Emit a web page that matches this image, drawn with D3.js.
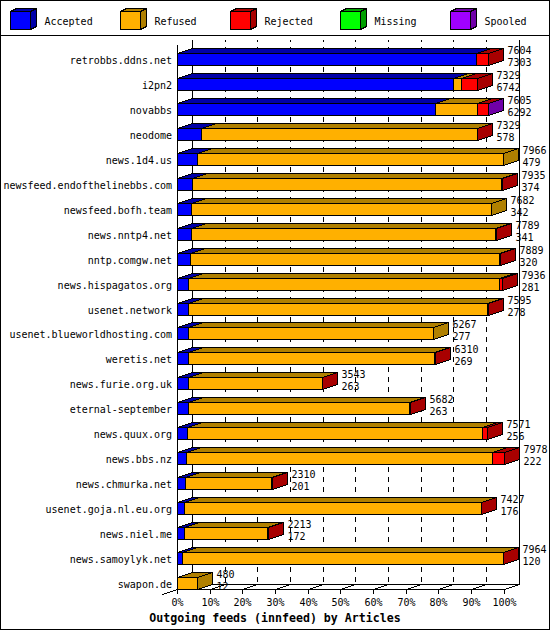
<!DOCTYPE html>
<html><head><meta charset="utf-8">
<script src="https://cdn.jsdelivr.net/npm/d3@7/dist/d3.min.js"></script>
<style>
html,body{margin:0;padding:0;background:#fff;}
svg text{font-family:"DejaVu Sans Mono","Liberation Mono",monospace;}
</style></head>
<body>
<svg id="chart" width="550" height="630"></svg>
<script>
const sites = ["retrobbs.ddns.net","i2pn2","novabbs","neodome","news.1d4.us","newsfeed.endofthelinebbs.com","newsfeed.bofh.team","news.nntp4.net","nntp.comgw.net","news.hispagatos.org","usenet.network","usenet.blueworldhosting.com","weretis.net","news.furie.org.uk","eternal-september","news.quux.org","news.bbs.nz","news.chmurka.net","usenet.goja.nl.eu.org","news.niel.me","news.samoylyk.net","swapon.de"];
const totals   = [7604,7329,7605,7329,7966,7935,7682,7789,7889,7936,7595,6267,6310,3543,5682,7571,7978,2310,7427,2213,7964,480];
const accepted = [7303,6742,6292,578,479,374,342,341,320,281,278,277,269,263,263,256,222,201,176,172,120,12];
const refused  = [0,205,1030,6746,7487,7546,7340,7440,7559,7595,7309,5990,6001,3275,5414,7185,7486,2104,7246,2036,7839,468];
const rejected = [301,382,280,5,0,15,0,8,10,60,8,0,40,5,5,130,270,5,5,5,5,0];
const missing  = [0,0,0,0,0,0,0,0,0,0,0,0,0,0,0,0,0,0,0,0,0,0];
const spooled  = [0,0,3,0,0,0,0,0,0,0,0,0,0,0,0,0,0,0,0,0,0,0];
const seriesNames = ["Accepted","Refused","Rejected","Missing","Spooled"];
const seriesData = [accepted, refused, rejected, missing, spooled];
const tickLabels = ["0%","10%","20%","30%","40%","50%","60%","70%","80%","90%","100%"];
const tickFractions = [0,0.1,0.2,0.3,0.4,0.5,0.6,0.7,0.8,0.9,1.0];
const title = "Outgoing feeds (innfeed) by Articles";

const frontColors = ["#0000ff","#ffb000","#ff0000","#00ff00","#a000ff"];
const sideColors  = ["#0000a8","#b08000","#a80000","#00a000","#7000a8"];

const svg = d3.select("#chart");
const DX = 15, DY = 5, BH = 12;
const maxV = d3.max(totals);
const x = d3.scaleLinear().domain([0, maxV]).range([177, 503.5]);
const y = d3.scaleBand().domain(sites).range([46.5, 595.5]).paddingInner(0).paddingOuter(0);
const px = v => Math.round(x(v)) + 0.5;

// frame
svg.append("rect").attr("x",0.5).attr("y",0.5).attr("width",549).attr("height",629)
  .attr("fill","#fff").attr("stroke","#000");
svg.append("line").attr("x1",0).attr("x2",550).attr("y1",35.5).attr("y2",35.5).attr("stroke","#000");

// legend
const leg = svg.append("g").attr("shape-rendering","crispEdges");
seriesNames.forEach((n,i)=>{
  const lx = 10.5 + i*110, ly = 11.5, w = 20, h = 18, d = 6, dd = 3;
  leg.append("polygon").attr("points",[[lx,ly],[lx+d,ly-dd],[lx+w+d,ly-dd],[lx+w,ly]].join(" "))
    .attr("fill",sideColors[i]).attr("stroke","#000");
  leg.append("polygon").attr("points",[[lx+w,ly],[lx+w+d,ly-dd],[lx+w+d,ly+h-dd],[lx+w,ly+h]].join(" "))
    .attr("fill",sideColors[i]).attr("stroke","#000");
  leg.append("rect").attr("x",lx).attr("y",ly).attr("width",w).attr("height",h)
    .attr("fill",frontColors[i]).attr("stroke","#000");
  svg.append("text").attr("x",lx+34).attr("y",25).attr("font-size","10px").text(n);
});

// axes / walls
const g = svg.append("g").attr("shape-rendering","crispEdges");
const floorFront = 589.5, floorBack = floorFront - DY, wallTop = 40;
const x0 = px(0), x100 = px(maxV);
// dashed grid on back wall
tickFractions.forEach((f,i)=>{
  if (i===0 || i===tickFractions.length-1) return;
  const tx = px(f*maxV);
  g.append("line").attr("x1",tx+DX).attr("x2",tx+DX).attr("y1",floorBack-2.5).attr("y2",wallTop)
    .attr("stroke","#000").attr("stroke-dasharray","5,5");
});
g.append("line").attr("x1",x0+DX).attr("x2",x0+DX).attr("y1",wallTop).attr("y2",floorBack).attr("stroke","#000");
g.append("line").attr("x1",x100+DX).attr("x2",x100+DX).attr("y1",wallTop).attr("y2",floorBack).attr("stroke","#000");
g.append("line").attr("x1",x0+DX).attr("x2",x100+DX).attr("y1",floorBack).attr("y2",floorBack).attr("stroke","#000");
g.append("line").attr("x1",x0).attr("x2",x100).attr("y1",floorFront).attr("y2",floorFront).attr("stroke","#000");
g.append("line").attr("x1",x0-DX).attr("y1",floorFront+DY).attr("x2",x0+DX).attr("y2",floorBack).attr("stroke","#000");
g.append("line").attr("x1",x100).attr("y1",floorFront).attr("x2",x100+DX).attr("y2",floorBack).attr("stroke","#000");
g.append("line").attr("x1",x0).attr("x2",x0).attr("y1",45).attr("y2",floorFront).attr("stroke","#000");
tickFractions.forEach((f,i)=>{
  const tx = px(f*maxV);
  g.append("line").attr("x1",tx).attr("x2",tx).attr("y1",floorFront).attr("y2",floorFront+4).attr("stroke","#000");
  if (i>0 && i<tickFractions.length-1)
    g.append("line").attr("x1",tx).attr("y1",floorFront).attr("x2",tx+DX).attr("y2",floorBack).attr("stroke","#000");
  svg.append("text").attr("x",tx).attr("y",606).attr("text-anchor","middle").attr("font-size","10px").text(tickLabels[i]);
});

// bars
const bars = svg.append("g").attr("shape-rendering","crispEdges");
sites.forEach((s,r)=>{
  const yt = Math.round(y(s) + (y.bandwidth()-BH)/2) + 0.5, yb = yt + BH;
  let cum = 0;
  seriesData.forEach((arr,k)=>{
    const v = arr[r];
    if (v <= 0) return;
    const a = px(cum), b = px(cum+v);
    cum += v;
    bars.append("polygon").attr("points",[[a,yt],[a+DX,yt-DY],[b+DX,yt-DY],[b,yt]].join(" "))
      .attr("fill",sideColors[k]).attr("stroke","#000");
    bars.append("polygon").attr("points",[[b,yt],[b+DX,yt-DY],[b+DX,yb-DY],[b,yb]].join(" "))
      .attr("fill",sideColors[k]).attr("stroke","#000");
    if (b > a) bars.append("rect").attr("x",a).attr("y",yt).attr("width",b-a).attr("height",BH)
      .attr("fill",frontColors[k]).attr("stroke","#000");
    else bars.append("line").attr("x1",a).attr("x2",a).attr("y1",yt).attr("y2",yb).attr("stroke","#000");
  });
  const ex = px(totals[r]) + DX + 4;
  svg.append("text").attr("x",ex).attr("y",yt+0.5).attr("font-size","10px").text(totals[r]);
  svg.append("text").attr("x",ex).attr("y",yb+0.5).attr("font-size","10px").text(accepted[r]);
  svg.append("text").attr("x",172).attr("y",yt+10).attr("text-anchor","end").attr("font-size","10px").text(s);
});

svg.append("text").attr("x",275).attr("y",622).attr("text-anchor","middle")
  .attr("font-size","11.6px").attr("font-weight","bold").text(title);
</script>
</body></html>
